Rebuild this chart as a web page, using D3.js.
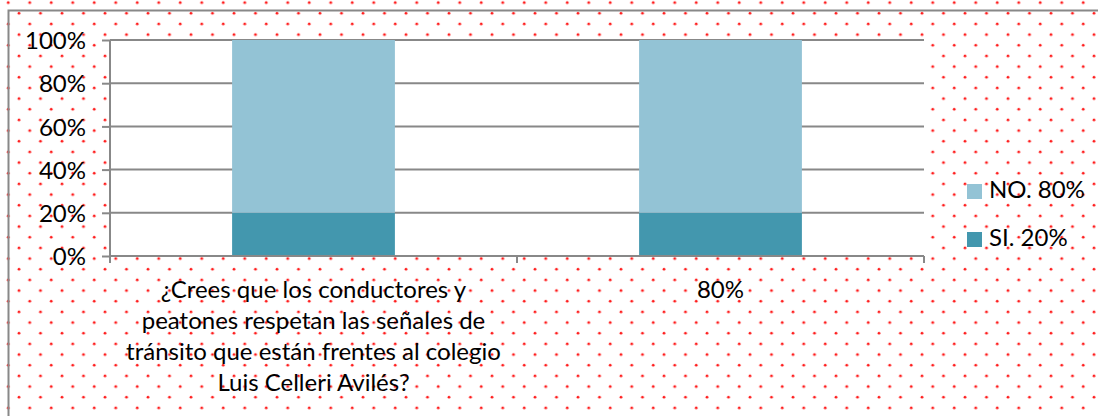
<!DOCTYPE html>
<html>
<head>
<meta charset="utf-8">
<script src="https://cdn.jsdelivr.net/npm/d3@7"></script>
<style>
  body { margin: 0; background: #fff; }
  text { font-family: Lato, "Open Sans", sans-serif; fill: #000; }
</style>
</head>
<body>
<div id="chart"></div>
<script>
var categories = ["q1", "q2"],
    catLabels = [
      ["¿Crees que los conductores y", "peatones respetan las señales de", "tránsito que están frentes al colegio", "Luis Celleri Avilés?"],
      ["80%"]
    ],
    siValues = [20, 20],
    noValues = [80, 80],
    seriesNames = ["SI. 20%", "NO. 80%"],
    yTicks = [0, 20, 40, 60, 80, 100];

var W = 1098, H = 416,
    margin = {top: 40, left: 110, right: 174, bottom: 160},
    width = W - margin.left - margin.right,
    height = H - margin.top - margin.bottom,
    colors = {"SI. 20%": "#4397ae", "NO. 80%": "#93c3d5"},
    grey = "#888888";

var svg = d3.select("#chart").append("svg")
    .attr("width", W)
    .attr("height", H);

// dotted background
var pat = svg.append("defs").append("pattern")
    .attr("id", "dots")
    .attr("patternUnits", "userSpaceOnUse")
    .attr("x", 14).attr("y", 8.3)
    .attr("width", 21.5).attr("height", 21.33);
pat.append("circle").attr("cx", 5).attr("cy", 5).attr("r", 1.4).attr("fill", "#ff1a1a");
pat.append("circle").attr("cx", 15.75).attr("cy", 15.67).attr("r", 1.4).attr("fill", "#ff1a1a");

svg.append("rect").attr("width", W).attr("height", H).attr("fill", "#fff");
svg.append("rect").attr("width", W).attr("height", H).attr("fill", "url(#dots)");

svg.append("rect")
    .attr("x", 8.5).attr("y", 10.5)
    .attr("width", W + 20).attr("height", H + 20)
    .attr("fill", "none")
    .attr("stroke", grey)
    .attr("stroke-width", 2);

var g = svg.append("g")
    .attr("transform", "translate(" + margin.left + "," + margin.top + ")");

var x = d3.scaleBand()
    .domain(categories)
    .range([0, width])
    .paddingInner(0)
    .paddingOuter(0);

var y = d3.scaleLinear()
    .domain([0, 100])
    .range([height, 0]);

g.append("rect")
    .attr("width", width).attr("height", height)
    .attr("fill", "#fff");

// gridlines
g.selectAll(".grid")
    .data(yTicks.slice(1))
    .enter().append("line")
    .attr("x1", 0).attr("x2", width)
    .attr("y1", function(d) { return y(d); })
    .attr("y2", function(d) { return y(d); })
    .attr("stroke", grey)
    .attr("stroke-width", 2);

// stacked bars
var data = categories.map(function(c, i) {
  return {cat: c, "SI. 20%": siValues[i], "NO. 80%": noValues[i]};
});
var stack = d3.stack().keys(seriesNames)(data);
var barW = x.bandwidth() * 0.4;

g.selectAll(".series")
    .data(stack)
    .enter().append("g")
    .attr("fill", function(d) { return colors[d.key]; })
    .selectAll("rect")
    .data(function(d) { return d; })
    .enter().append("rect")
    .attr("x", function(d) { return x(d.data.cat) + (x.bandwidth() - barW) / 2; })
    .attr("y", function(d) { return y(d[1]); })
    .attr("width", barW)
    .attr("height", function(d) { return y(d[0]) - y(d[1]); });

// y axis
var yAxis = g.append("g")
    .call(d3.axisLeft(y).tickValues(yTicks).tickFormat(function(d) { return d + "%"; }).tickSize(8).tickPadding(16));
yAxis.selectAll("line, path").attr("stroke", grey).attr("stroke-width", 2);
yAxis.select(".domain").attr("d", "M0,0V" + height);
yAxis.selectAll("text")
    .style("font-family", "Lato, sans-serif")
    .style("font-size", "24px")
    .attr("dy", "0.36em");

// x axis
var xAxis = g.append("g")
    .attr("transform", "translate(0," + height + ")")
    .call(d3.axisBottom(x).tickSize(0).tickFormat(""));
xAxis.select(".domain").attr("d", "M0,0H" + width).attr("stroke", grey).attr("stroke-width", 2);
xAxis.selectAll(".sep")
    .data([0, width / 2, width])
    .enter().append("line")
    .attr("x1", function(d) { return d; }).attr("x2", function(d) { return d; })
    .attr("y1", 0).attr("y2", 7)
    .attr("stroke", grey).attr("stroke-width", 2);

// category labels
categories.forEach(function(c, i) {
  var t = g.append("text")
      .attr("text-anchor", "middle")
      .attr("x", x(c) + x.bandwidth() / 2)
      .attr("y", height + 42)
      .style("font-size", "24px");
  catLabels[i].forEach(function(line, j) {
    t.append("tspan")
      .attr("x", x(c) + x.bandwidth() / 2)
      .attr("dy", j === 0 ? 0 : 31)
      .text(line);
  });
});

// legend
var legendItems = ["NO. 80%", "SI. 20%"];
var legend = svg.selectAll(".legend")
    .data(legendItems)
    .enter().append("g")
    .attr("transform", function(d, i) { return "translate(967," + (184 + i * 48) + ")"; });
legend.append("rect")
    .attr("width", 15).attr("height", 15)
    .attr("fill", function(d) { return colors[d]; });
legend.append("text")
    .attr("x", 22).attr("y", 14)
    .style("font-size", "24px")
    .text(function(d) { return d; });
</script>
</body>
</html>
